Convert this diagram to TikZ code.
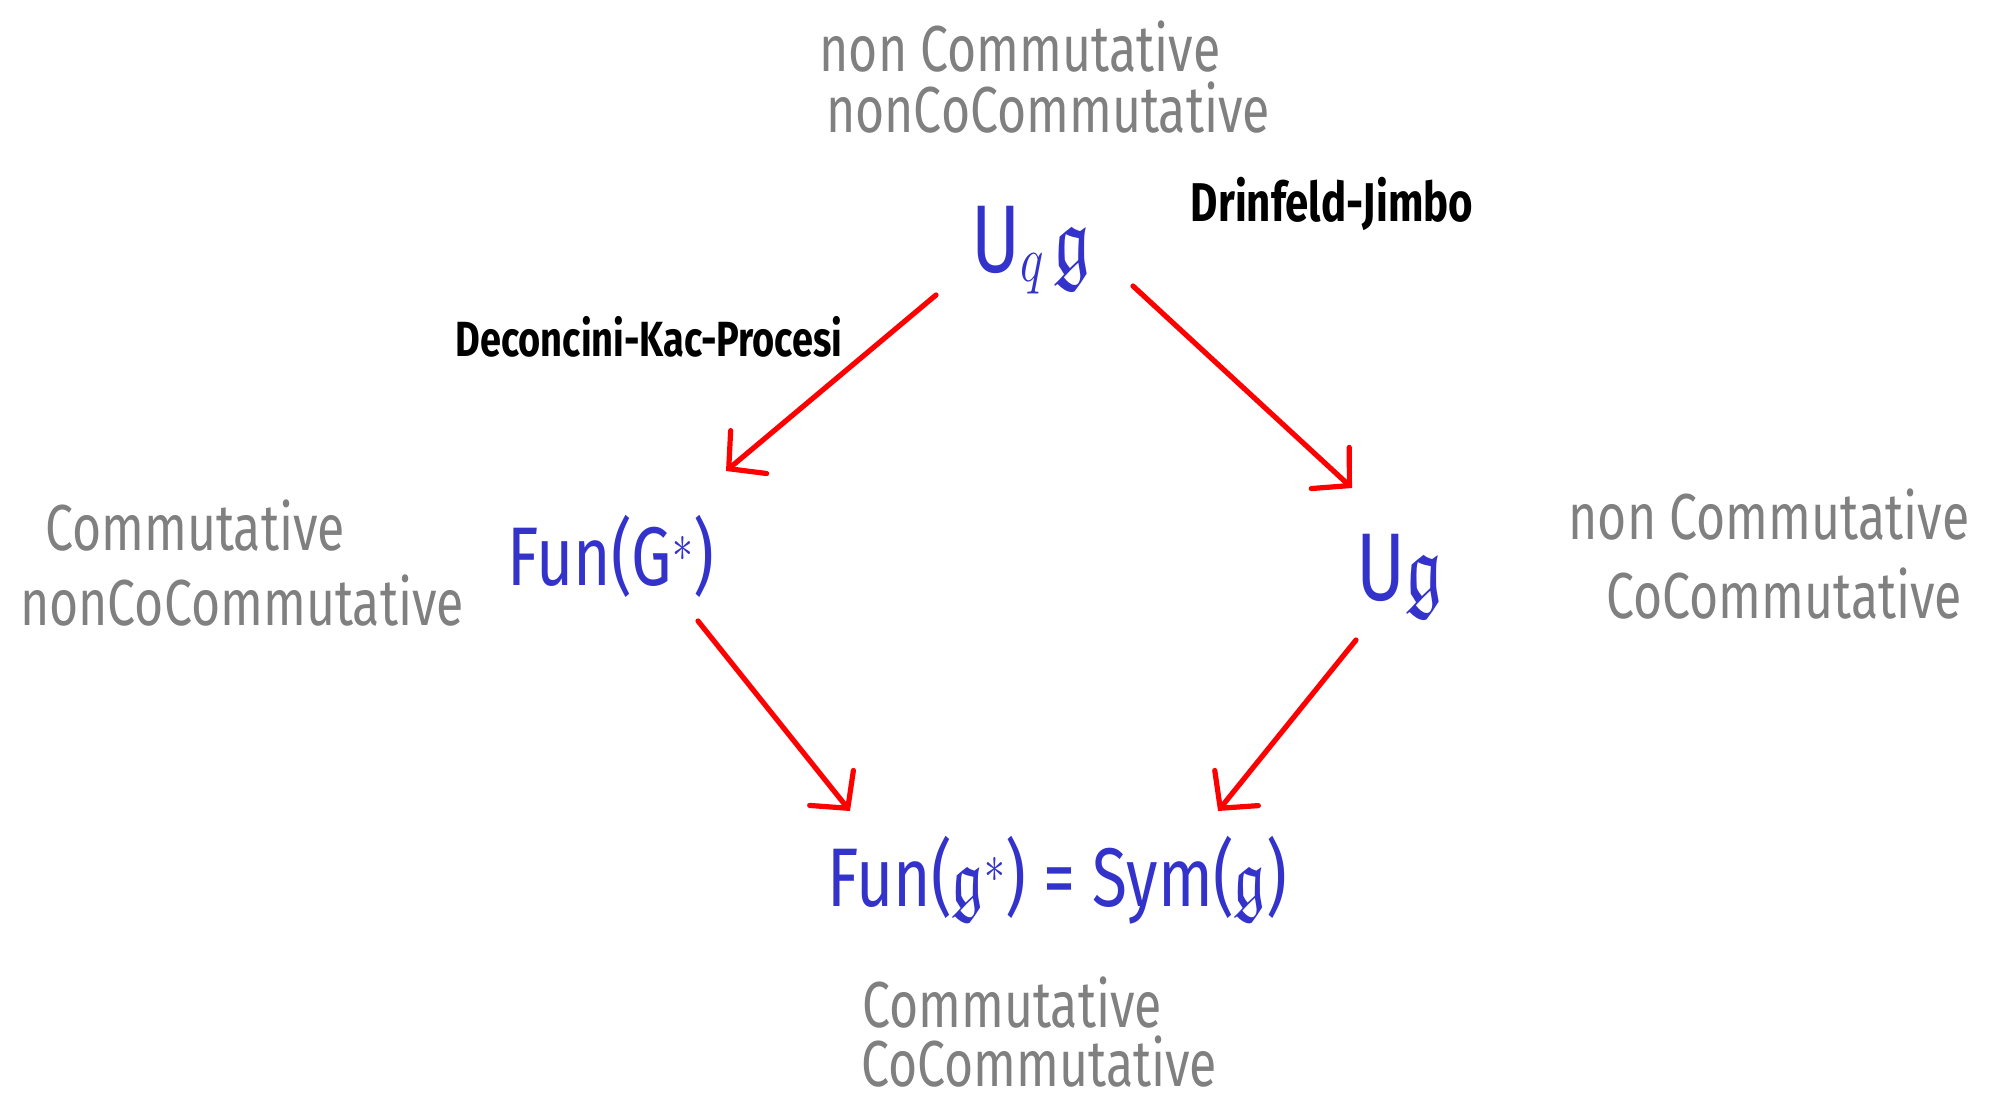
\documentclass[tikz,border=0pt]{standalone}
\usepackage{amssymb}
\usepackage{graphicx}
\usepackage{fontspec}
\newfontfamily\hand{Fira Sans}
\usetikzlibrary{arrows.meta,calc}
\definecolor{penblue}{RGB}{51,51,204}
\definecolor{pengrey}{RGB}{128,128,128}
\definecolor{penred}{RGB}{255,0,0}
\newcommand{\tallt}[1]{\scalebox{1}[1.3]{#1}}
\tikzset{
  obj/.style={text=penblue, font=\hand\fontsize{32}{36}\selectfont, inner sep=0pt},
  bigobj/.style={obj, font=\hand\fontsize{37}{40}\selectfont},
  prop/.style={text=pengrey, font=\hand\fontsize{25}{30}\selectfont, inner sep=0pt},
  lbl/.style={text=black, font=\hand\bfseries\fontsize{19}{22}\selectfont, inner sep=0pt},
  map/.style={draw=penred, line width=2.6pt, line cap=round, line join=round,
    -{Straight Barb[length=13pt,width=28pt,line cap=round]}}
}
\begin{document}
\begin{tikzpicture}[x=0.5pt,y=-0.5pt]
\useasboundingbox (0,0) rectangle (1996,1105);
% objects
\node[bigobj] (uqg) at (1031,250) {\tallt{U$_q\,\mathfrak{g}$}};
\node[obj] (fun) at (611,556) {\tallt{Fun(G$^*$)}};
\node[bigobj] (ug) at (1400,576) {\tallt{U$\mathfrak{g}$}};
\node[obj] (sym) at (1057,880) {\tallt{Fun($\mathfrak{g}^*$) = Sym($\mathfrak{g}$)}};
% properties
\node[prop] (t1) at (1020,47) {\tallt{non Commutative}};
\node[prop] (t2) at (1048,108) {\tallt{nonCoCommutative}};
\node[prop] (l1) at (195,526) {\tallt{Commutative}};
\node[prop] (l2) at (242,601) {\tallt{nonCoCommutative}};
\node[prop] (r1) at (1769,515) {\tallt{non Commutative}};
\node[prop] (r2) at (1784,594) {\tallt{CoCommutative}};
\node[prop] (b1) at (1012,1003) {\tallt{Commutative}};
\node[prop] (b2) at (1039,1062) {\tallt{CoCommutative}};
% labels
\node[lbl, font=\hand\bfseries\fontsize{21}{24}\selectfont] (dj) at (1332,204) {\tallt{Drinfeld-Jimbo}};
\node[lbl] (dkp) at (649,337) {\tallt{Deconcini-Kac-Procesi}};
% maps
\draw[map] ($(uqg)+(-95,45)$) -- ($(fun)+(115,-85)$);
\draw[map] ($(uqg)+(102,36)$) -- ($(ug)+(-48,-88)$);
\draw[map] ($(fun)+(87,65)$) -- ($(sym)+(-207,-69)$);
\draw[map] ($(ug)+(-44,64)$) -- ($(sym)+(161,-69)$);
\end{tikzpicture}
\end{document}
